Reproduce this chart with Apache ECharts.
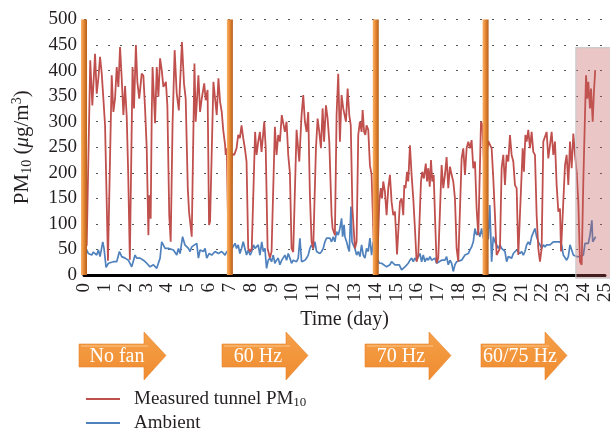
<!DOCTYPE html>
<html>
<head>
<meta charset="utf-8">
<script src="https://cdn.jsdelivr.net/npm/echarts@6/dist/echarts.min.js"></script>
<style>
  html, body { margin: 0; padding: 0; background: #fff; }
  #chart { width: 610px; height: 432px; }
</style>
</head>
<body>
<div id="chart"></div>
<script>
// Tunnel PM10 vs ambient, [day, µg/m³]
const tunnelPM10 = [
  [0.03,55],[0.13,58],[0.3,420],[0.4,332],[0.53,433],[0.61,355],[0.69,385],[0.77,427],[0.85,395],[0.93,345],[1.01,293],[1.15,28],
  [1.33,391],[1.41,319],[1.49,345],[1.57,407],[1.65,368],[1.73,446],[1.81,385],[1.89,313],[1.97,370],[2.05,310],[2.12,200],[2.2,30],
  [2.33,407],[2.4,326],[2.49,450],[2.56,378],[2.65,345],[2.77,394],[2.85,390],[2.93,326],[3.01,248],[3.09,78],[3.13,156],[3.2,110],
  [3.25,313],[3.29,407],[3.41,297],[3.49,407],[3.57,349],[3.65,424],[3.73,401],[3.81,368],[3.93,378],[4.0,332],[4.09,117],[4.16,65],
  [4.25,296],[4.35,440],[4.45,355],[4.55,322],[4.7,456],[4.8,374],[4.88,345],[4.98,170],[5.04,124],[5.17,75],
  [5.3,414],[5.36,300],[5.49,391],[5.57,319],[5.65,345],[5.77,375],[5.84,342],[5.93,362],[6.0,98],[6.05,105],
  [6.21,378],[6.29,381],[6.37,313],[6.45,385],[6.53,339],[6.61,319],[6.68,284],[6.77,254],[6.8,235],[6.85,248],[6.95,15],
  [7.1,237],[7.21,235],[7.32,248],[7.4,274],[7.48,268],[7.56,293],[7.64,268],[7.72,248],[7.8,222],[7.88,52],[7.97,46],[8.05,52],
  [8.21,280],[8.28,235],[8.36,261],[8.44,280],[8.52,241],[8.65,300],[8.72,248],[8.81,52],[8.92,33],[9.0,46],
  [9.16,290],[9.24,235],[9.32,274],[9.4,261],[9.49,313],[9.57,316],[9.64,280],[9.72,300],[9.8,235],[9.88,200],[9.96,52],[10.04,45],
  [10.2,284],[10.33,222],[10.44,313],[10.52,352],[10.6,300],[10.68,280],[10.76,319],[10.84,156],[10.92,65],[11.0,52],
  [11.13,248],[11.21,306],[11.29,280],[11.37,248],[11.45,326],[11.52,261],[11.61,332],[11.69,306],[11.77,261],[11.88,117],[11.93,91],[12.04,78],
  [12.12,313],[12.2,394],[12.28,261],[12.36,352],[12.44,326],[12.57,300],[12.65,365],[12.73,313],[12.8,293],[12.88,130],[13.0,52],[13.08,65],
  [13.16,274],[13.24,300],[13.32,280],[13.37,323],[13.44,280],[13.5,274],[13.56,293],[13.64,284],[13.72,215],[13.8,196],[13.93,25],[14.08,30],
  [14.17,143],[14.24,170],[14.3,150],[14.36,183],[14.44,163],[14.52,117],[14.6,170],[14.68,196],[14.76,143],[14.84,117],[14.92,124],[14.97,85],[15.02,40],
  [15.16,143],[15.24,150],[15.32,117],[15.37,176],[15.43,170],[15.5,202],[15.56,183],[15.64,254],[15.72,196],[15.8,150],[15.88,91],[15.96,26],[16.04,39],
  [16.17,183],[16.23,202],[16.31,189],[16.4,218],[16.46,183],[16.52,209],[16.59,173],[16.65,225],[16.71,183],[16.78,196],[16.84,117],[16.92,23],[17.0,33],
  [17.16,215],[17.24,170],[17.32,196],[17.4,231],[17.48,170],[17.56,212],[17.64,196],[17.72,183],[17.8,150],[17.88,52],[17.96,26],
  [18.12,228],[18.2,248],[18.28,196],[18.36,248],[18.44,261],[18.52,248],[18.6,264],[18.68,209],[18.76,222],[18.84,130],[18.92,78],
  [19.05,300],[19.12,293],[19.2,209],[19.3,230],[19.4,262],[19.48,261],[19.56,248],[19.64,189],[19.72,117],[19.8,39],[19.96,52],
  [20.04,209],[20.12,235],[20.2,176],[20.28,235],[20.36,222],[20.44,274],[20.52,235],[20.6,222],[20.68,176],[20.76,170],[20.84,39],[20.92,39],
  [21.05,248],[21.11,202],[21.18,274],[21.24,261],[21.32,284],[21.4,248],[21.48,280],[21.56,241],[21.64,235],[21.72,117],[21.8,52],[21.88,26],[21.96,52],
  [22.04,261],[22.12,261],[22.2,280],[22.28,228],[22.36,254],[22.44,280],[22.52,235],[22.6,261],[22.68,176],[22.76,124],[22.84,130],[22.89,46],[22.97,46],
  [23.08,215],[23.16,235],[23.24,176],[23.32,261],[23.4,209],[23.48,277],[23.56,235],[23.64,202],[23.72,143],[23.8,26],[23.88,20],
  [23.96,183],[24.04,313],[24.09,391],[24.15,345],[24.2,378],[24.28,326],[24.33,365],[24.41,300],[24.47,359],[24.53,401]
];

const ambientPM10 = [
  [0.03,52],[0.13,49],[0.21,42],[0.29,45],[0.37,39],[0.45,45],[0.53,42],[0.61,39],[0.69,49],[0.77,36],[0.9,65],[0.96,52],[1.06,15],
  [1.17,23],[1.25,23],[1.41,26],[1.57,26],[1.7,46],[1.81,36],[1.97,33],[2.13,29],[2.29,16],[2.45,39],[2.53,33],[2.69,33],[2.85,29],
  [3.01,23],[3.17,16],[3.33,20],[3.49,13],[3.65,33],[3.73,65],[3.89,52],[4.05,52],[4.13,49],[4.29,49],[4.45,39],[4.53,52],[4.61,42],
  [4.73,75],[4.84,59],[5.01,52],[5.09,46],[5.17,55],[5.25,52],[5.41,62],[5.49,33],[5.57,49],[5.73,46],[5.81,52],[5.89,33],[6.0,42],
  [6.13,39],[6.29,46],[6.45,42],[6.61,46],[6.77,39],[6.85,46],[7.0,45],
  [7.15,55],[7.25,62],[7.32,52],[7.4,59],[7.48,42],[7.56,52],[7.64,65],[7.72,52],[7.8,39],[7.88,49],[7.97,39],[8.05,46],[8.13,59],
  [8.21,52],[8.28,55],[8.36,59],[8.44,39],[8.53,65],[8.6,46],[8.68,52],[8.76,13],[8.84,29],[8.92,33],[9.0,26],[9.08,39],[9.16,23],
  [9.24,29],[9.32,33],[9.4,20],[9.49,29],[9.57,26],[9.64,39],[9.72,29],[9.8,42],[9.88,33],[9.96,23],
  [10.04,29],[10.2,26],[10.28,33],[10.36,72],[10.44,26],[10.52,23],[10.6,29],[10.68,33],[10.76,39],[10.84,52],[10.92,59],[11.0,52],
  [11.08,65],[11.16,46],[11.24,49],[11.32,42],[11.4,46],[11.48,52],[11.56,65],[11.64,72],[11.72,75],[11.8,72],[11.88,65],[11.96,75],
  [12.04,65],[12.12,85],[12.2,78],[12.28,91],[12.36,111],[12.41,75],[12.48,98],[12.52,75],[12.6,65],[12.68,52],[12.73,46],[12.81,134],
  [12.86,65],[12.92,59],[13.0,52],[13.08,39],[13.16,46],[13.24,36],[13.32,59],[13.4,39],[13.48,33],[13.56,52],[13.64,46],[13.72,72],
  [13.8,39],[13.88,65],[14.0,40],
  [14.17,23],[14.28,23],[14.36,20],[14.52,16],[14.68,20],[14.76,26],[14.84,23],[14.92,20],[15.13,20],[15.24,10],[15.4,16],[15.56,23],
  [15.64,29],[15.72,33],[15.8,26],[15.88,33],[15.96,29],[16.04,36],[16.12,42],[16.2,26],[16.28,39],[16.36,26],[16.44,33],[16.52,29],
  [16.6,36],[16.68,29],[16.76,26],[16.84,33],[16.92,23],[17.0,26],[17.16,29],[17.32,29],[17.4,36],[17.48,20],[17.56,29],[17.64,23],
  [17.72,7],[17.8,20],[17.88,26],[17.96,26],[18.12,29],[18.2,29],[18.28,39],[18.36,36],[18.44,42],[18.52,49],[18.6,55],[18.68,65],
  [18.76,91],[18.84,78],[18.92,85],[19.0,75],[19.08,91],[19.16,72],[19.3,75],[19.4,70],[19.47,137],[19.56,26],[19.64,75],[19.72,65],
  [19.8,59],[19.88,52],[19.96,59],[20.04,52],[20.12,52],[20.2,46],[20.28,26],[20.36,36],[20.44,39],[20.52,33],[20.6,42],[20.68,39],
  [20.76,49],[20.84,52],[20.92,42],[21.0,46],[21.08,39],[21.16,46],[21.24,59],[21.32,65],[21.4,59],[21.48,75],[21.56,78],[21.64,91],
  [21.72,75],[21.8,65],[21.88,59],[21.96,52],[22.04,59],[22.12,55],[22.2,59],[22.28,62],[22.36,59],[22.44,62],[22.52,65],[22.68,65],
  [22.84,65],[22.92,59],[23.0,39],[23.08,39],[23.16,29],[23.24,36],[23.32,59],[23.4,62],[23.48,39],[23.56,36],[23.64,36],[23.8,36],
  [23.96,39],[24.04,62],[24.12,65],[24.2,62],[24.28,78],[24.37,107],[24.41,65],[24.47,69],[24.55,75]
];

// Days on which the fan setting changed, and the labels of each phase
const phaseChangeDays = [0, 7, 14, 19.27];
const phaseLabels = ['No fan', '60 Hz', '70 Hz', '60/75 Hz'];

// Shaded period at the end of the campaign [startDay, endDay, low, high]
const shadedPeriod = [23.6, 25.25, -6, 445];

const seriesNames = ['Measured tunnel PM10', 'Ambient'];
const yTicks = { min: 0, max: 500, step: 50 };
const xTicks = { min: 0, max: 25, step: 1 };

const FONT = "'Liberation Serif', 'Times New Roman', serif";
const INK = '#231f20';
const RED = '#c0504d';
const BLUE = '#4f81bd';

const chart = echarts.init(document.getElementById('chart'), null, { renderer: 'canvas' });

// Block arrows under the axis title, one per fan phase
const arrowBoxes = [
  { x0: 79, x1: 166, tx: 117 },
  { x0: 222, x1: 308, tx: 258 },
  { x0: 365, x1: 451, tx: 401 },
  { x0: 481, x1: 567, tx: 520 }
];
const arrowFill = {
  type: 'linear', x: 0, y: 0, x2: 0, y2: 1,
  colorStops: [
    { offset: 0, color: '#f5a049' },
    { offset: 1, color: '#ef8b2f' }
  ]
};
const graphics = [];
arrowBoxes.forEach((b, i) => {
  const head = 22, yTop = 344, yBot = 367, hTop = 332, hBot = 380, yMid = 355.5;
  const xh = b.x1 - head;
  graphics.push({
    type: 'polygon',
    shape: { points: [[b.x0, yTop], [xh, yTop], [xh, hTop], [b.x1, yMid], [xh, hBot], [xh, yBot], [b.x0, yBot]] },
    style: { fill: arrowFill, stroke: '#e5852d', lineWidth: 0.6 }
  });
  graphics.push({
    type: 'line',
    shape: { x1: b.x0 + 2, y1: yTop + 2, x2: xh + 4, y2: yTop + 2 },
    style: { stroke: 'rgba(255,220,170,0.7)', lineWidth: 1 }
  });
  graphics.push({
    type: 'text',
    style: {
      text: phaseLabels[i], x: b.tx, y: yMid + 1, align: 'center', verticalAlign: 'middle',
      fill: '#ffffff', font: "20px " + FONT
    }
  });
});

const barGradient = {
  type: 'linear', x: 0, y: 0, x2: 1, y2: 0,
  colorStops: [
    { offset: 0, color: '#f7b36b' },
    { offset: 0.45, color: '#e98a33' },
    { offset: 1, color: '#b35d1c' }
  ]
};

// One legend block per series, stacked below the arrows
const legendText = {
  fontFamily: FONT, fontSize: 19, color: INK, lineHeight: 20, padding: [0, 0, 0, 9],
  rich: { sub: { fontFamily: FONT, fontSize: 13, color: INK, verticalAlign: 'bottom', lineHeight: 14 } }
};
const legendBase = {
  orient: 'vertical', left: 86, padding: 0,
  itemWidth: 34, itemHeight: 2, icon: 'rect', selectedMode: false,
  formatter: n => n.replace('PM10', 'PM{sub|10}'),
  textStyle: legendText
};

const option = {
  animation: false,
  backgroundColor: '#ffffff',
  textStyle: { fontFamily: FONT, color: INK },
  grid: { left: 84, right: 5, top: 19.5, bottom: 157, containLabel: false, outerBoundsMode: 'none' },
  legend: [
    Object.assign({}, legendBase, { top: 389, data: [seriesNames[0]] }),
    Object.assign({}, legendBase, { top: 413, data: [seriesNames[1]] })
  ],
  xAxis: {
    type: 'value', min: xTicks.min, max: xTicks.max, interval: xTicks.step,
    name: 'Time (day)', nameLocation: 'middle', nameGap: 35,
    nameTextStyle: { fontFamily: FONT, fontSize: 20, color: INK },
    axisLine: { show: true, onZero: false, lineStyle: { color: '#000', width: 3 } },
    axisTick: { show: false },
    axisLabel: { rotate: 90, margin: 8, fontFamily: FONT, fontSize: 19, color: INK },
    splitLine: { show: false }
  },
  yAxis: {
    type: 'value', min: yTicks.min, max: yTicks.max, interval: yTicks.step,
    name: 'PM{sub|10} ({it|μ}g/m{sup|3})', nameLocation: 'middle', nameGap: 50, nameRotate: 90,
    nameTextStyle: {
      fontFamily: FONT, fontSize: 21, color: INK, lineHeight: 24,
      rich: {
        sub: { fontFamily: FONT, fontSize: 14, color: INK, verticalAlign: 'bottom', lineHeight: 14 },
        sup: { fontFamily: FONT, fontSize: 14, color: INK, verticalAlign: 'top', lineHeight: 14 },
        it: { fontFamily: FONT, fontSize: 21, color: INK, fontStyle: 'italic' }
      }
    },
    axisLine: { show: false },
    axisTick: { show: false },
    axisLabel: { margin: 7, fontFamily: FONT, fontSize: 19, color: INK },
    splitLine: { show: true, lineStyle: { color: '#555', width: 1, type: [2, 10] } }
  },
  series: [
    {
      name: seriesNames[0], type: 'line', data: tunnelPM10, symbol: 'none', z: 3,
      lineStyle: { color: RED, width: 1.8 }, itemStyle: { color: RED }
    },
    {
      name: seriesNames[1], type: 'line', data: ambientPM10, symbol: 'none', z: 2,
      lineStyle: { color: BLUE, width: 1.7 }, itemStyle: { color: BLUE }
    },
    {
      type: 'custom', name: 'shaded', silent: true, clip: false, z: 6,
      data: [shadedPeriod],
      renderItem(params, api) {
        const p0 = api.coord([api.value(0), api.value(3)]);
        const p1 = api.coord([api.value(1), api.value(2)]);
        return {
          type: 'rect',
          shape: { x: p0[0], y: p0[1], width: p1[0] - p0[0], height: p1[1] - p0[1] },
          style: { fill: 'rgba(192,92,89,0.34)', stroke: 'rgba(200,200,205,0.9)', lineWidth: 1.2 }
        };
      }
    },
    {
      type: 'custom', name: 'phaseBars', silent: true, clip: false, z: 7,
      data: phaseChangeDays.map(d => [d]),
      renderItem(params, api) {
        const top = api.coord([api.value(0), yTicks.max]);
        const bot = api.coord([api.value(0), yTicks.min]);
        const w = 6;
        return {
          type: 'rect',
          shape: { x: top[0] - w / 2, y: top[1], width: w, height: bot[1] - top[1] },
          style: { fill: barGradient }
        };
      }
    }
  ],
  graphic: graphics
};

chart.setOption(option);
</script>
</body>
</html>
